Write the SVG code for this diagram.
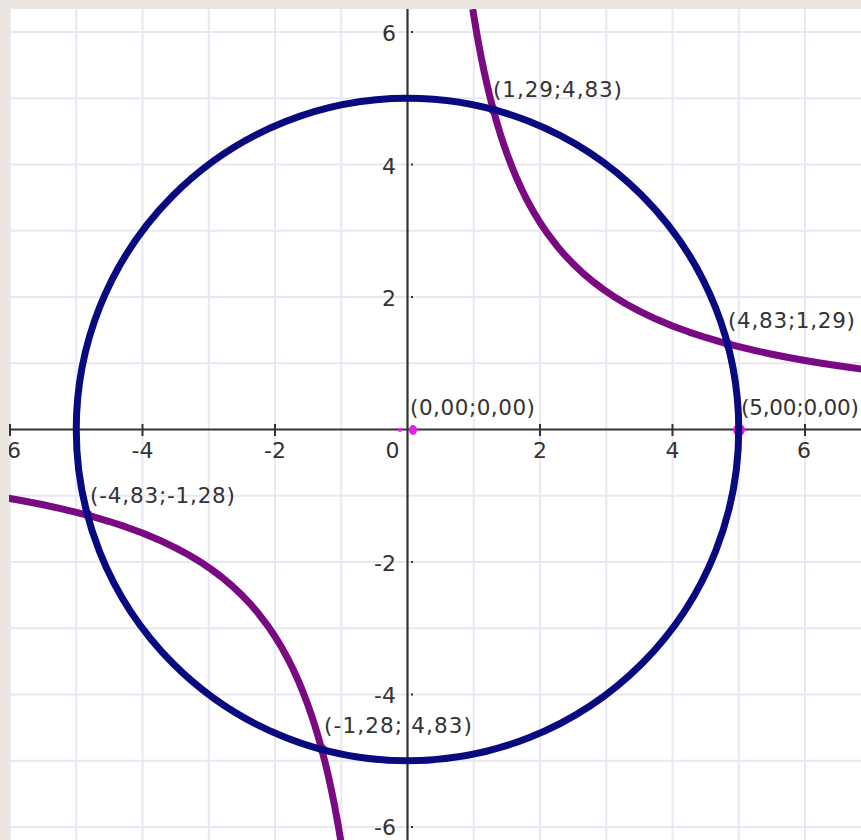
<svg xmlns="http://www.w3.org/2000/svg" width="861" height="840" viewBox="0 0 861 840">
<defs>
<style>
.grid{stroke:#e9e7f2;stroke-width:2;fill:none}
.axis{stroke:#333;stroke-width:2.2;fill:none}
.tick{stroke:#333;stroke-width:2}
.lbl{font-family:"DejaVu Sans",Verdana,sans-serif;font-size:22px;fill:#333}
.pt{font-family:"DejaVu Sans",Verdana,sans-serif;font-size:21.5px;fill:#333}
.circ{stroke:#0a0a80;stroke-width:7;fill:none}
.hyp{stroke:#7a0a82;stroke-width:7;fill:none;stroke-linejoin:round}
.mk{fill:#e81ee8}
</style>
<clipPath id="plot"><rect x="9" y="9" width="852" height="831"/></clipPath>
</defs>
<rect x="0" y="0" width="861" height="840" fill="#ebe6e1"/>
<rect x="9" y="9" width="852" height="831" fill="#ffffff"/>
<g clip-path="url(#plot)">
<g id="grid" class="grid">
<path d="M10 9V840M76.25 9V840M142.5 9V840M208.75 9V840M275 9V840M341.25 9V840M473.75 9V840M540 9V840M606.25 9V840M672.5 9V840M738.75 9V840M805 9V840"/>
<path d="M9 32H861M9 98.25H861M9 164.5H861M9 230.75H861M9 297H861M9 363.25H861M9 495.75H861M9 562H861M9 628.25H861M9 694.5H861M9 760.75H861M9 827H861"/>
</g>
<g id="axes">
<path class="axis" d="M9 429.5H861M407.5 9V840"/>
<path class="tick" d="M10 424V436M142.5 424V436M275 424V436M540 424V436M672.5 424V436M805 424V436"/>
<g fill="#333">
<rect x="411" y="31" width="2" height="2"/>
<rect x="411" y="163.5" width="2" height="2"/>
<rect x="411" y="296" width="2" height="2"/>
<rect x="411" y="561" width="2" height="2"/>
<rect x="411" y="693.5" width="2" height="2"/>
<rect x="411" y="826" width="2" height="2"/>
</g>
<g class="lbl">
<text x="7" y="458">6</text>
<text x="142.5" y="458" text-anchor="middle">-4</text>
<text x="275" y="458" text-anchor="middle">-2</text>
<text x="392.5" y="458" text-anchor="middle">0</text>
<text x="540" y="458" text-anchor="middle">2</text>
<text x="672.5" y="458" text-anchor="middle">4</text>
<text x="804" y="458" text-anchor="middle">6</text>
<text x="396" y="41" text-anchor="end">6</text>
<text x="396" y="174" text-anchor="end">4</text>
<text x="396" y="306" text-anchor="end">2</text>
<text x="396" y="571" text-anchor="end">-2</text>
<text x="396" y="703" text-anchor="end">-4</text>
<text x="396" y="835" text-anchor="end">-6</text>
</g>
</g>
<g id="markers">
<ellipse class="mk" cx="413" cy="430" rx="4" ry="5"/>
<circle class="mk" cx="400" cy="430" r="2"/>
<circle class="mk" cx="739" cy="430" r="6"/>
<circle class="mk" cx="727.5" cy="343.8" r="5"/>
<circle class="mk" cx="493.2" cy="109.6" r="5"/>
<circle class="mk" cx="87.5" cy="514.5" r="5"/>
<circle class="mk" cx="322" cy="749" r="5"/>
</g>
<g id="hyperbola">
<polyline class="hyp" points="472.76,9.14 473.75,15.44 477.06,35.17 480.38,53.07 483.69,69.45 487,84.47 490.31,98.25 493.63,110.97 496.94,122.79 500.25,133.76 503.56,143.94 506.88,153.44 511.84,166.6 516.81,178.54 521.78,189.46 526.75,199.48 533.38,211.57 540,222.47 546.63,232.33 556.56,245.46 564.84,255.16 573.13,263.87 583.06,273.25 593,281.63 602.94,289.14 612.88,295.94 626.13,304.03 639.38,311.18 655.94,319.08 672.5,325.98 689.06,332.07 705.63,337.48 722.19,342.33 738.75,346.69 755.31,350.63 771.88,354.24 788.44,357.49 805,360.47 821.56,363.25 838.13,365.8 864.63,369.49"/>
<polyline class="hyp" points="342.24,849.86 341.25,843.56 337.94,823.83 334.62,805.93 331.31,789.55 328,774.53 324.69,760.75 321.37,748.03 318.06,736.21 314.75,725.24 311.44,715.06 308.12,705.56 303.16,692.4 298.19,680.46 293.22,669.54 288.25,659.52 281.62,647.43 275,636.53 268.37,626.67 258.44,613.54 250.16,603.84 241.87,595.13 231.94,585.75 222,577.37 212.06,569.86 202.12,563.06 188.87,554.97 175.62,547.82 159.06,539.92 142.5,533.02 125.94,526.93 109.37,521.52 92.81,516.67 76.25,512.31 59.69,508.37 43.12,504.76 26.56,501.51 10,498.53 -6.56,495.75 -23.13,493.2"/>
</g>
<g id="circle">
<circle class="circ" cx="407.5" cy="429.5" r="331.25"/>
</g>
<g id="labels" class="pt">
<text x="410" y="415" textLength="125">(0,00;0,00)</text>
<text x="741" y="415" textLength="118">(5,00;0,00)</text>
<text x="728" y="328" textLength="127">(4,83;1,29)</text>
<text x="493" y="97" textLength="129">(1,29;4,83)</text>
<text x="90" y="503" textLength="145">(-4,83;-1,28)</text>
<text x="324" y="733" textLength="148">(-1,28; 4,83)</text>
</g>
</g>
</svg>
